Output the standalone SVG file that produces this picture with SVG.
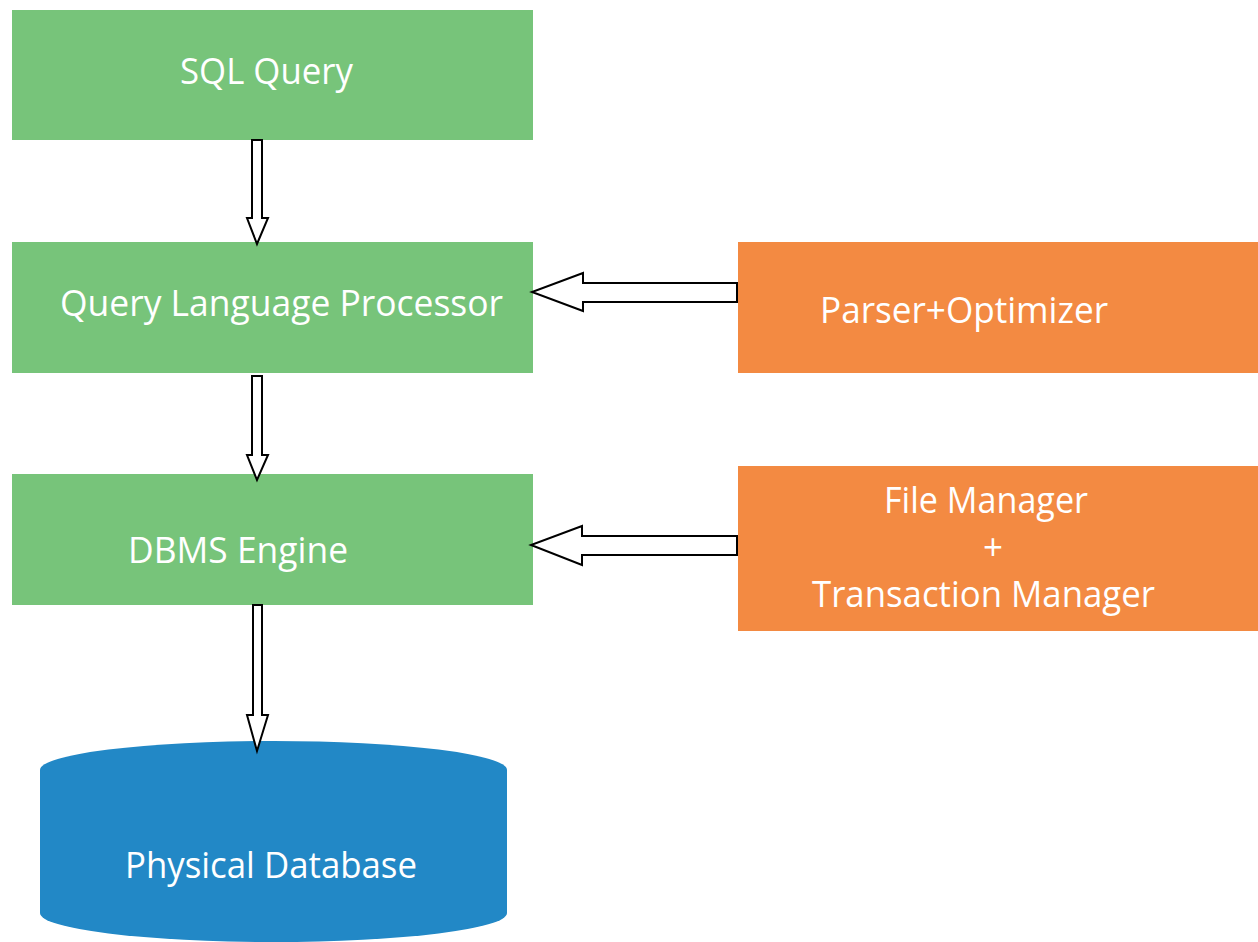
<svg xmlns="http://www.w3.org/2000/svg" width="1258" height="942" viewBox="0 0 1258 942">
<style>
.g{fill:#77C47A}
.o{fill:#F38A42}
.b{fill:#2288C6}
.t{font-family:"Open Sans","Liberation Sans",sans-serif;font-size:36px;fill:#ffffff}
.a{fill:#ffffff;stroke:#000000;stroke-width:2;stroke-linejoin:miter}
</style>
<rect width="1258" height="942" fill="#ffffff"/>
<g id="sql-query">
<rect class="g" x="12" y="10" width="521" height="130"/>
<text class="t" x="180" y="84" textLength="173" lengthAdjust="spacingAndGlyphs">SQL Query</text>
</g>
<g id="query-language-processor">
<rect class="g" x="12" y="242" width="521" height="131"/>
<text class="t" x="60" y="316" textLength="443" lengthAdjust="spacingAndGlyphs">Query Language Processor</text>
</g>
<g id="dbms-engine">
<rect class="g" x="12" y="474" width="521" height="131"/>
<text class="t" x="128" y="563" textLength="220" lengthAdjust="spacingAndGlyphs">DBMS Engine</text>
</g>
<g id="parser-optimizer">
<rect class="o" x="738" y="242" width="520" height="131"/>
<text class="t" x="820" y="323" textLength="288" lengthAdjust="spacingAndGlyphs">Parser+Optimizer</text>
</g>
<g id="file-transaction-manager">
<rect class="o" x="738" y="466" width="520" height="165"/>
<text class="t" x="884" y="513" textLength="204" lengthAdjust="spacingAndGlyphs">File Manager</text>
<text class="t" x="983" y="560" textLength="20" lengthAdjust="spacingAndGlyphs">+</text>
<text class="t" x="812" y="607" textLength="343" lengthAdjust="spacingAndGlyphs">Transaction Manager</text>
</g>
<g id="physical-database">
<path class="b" d="M40,770 A233.5,29 0 0 1 507,770 L507,913 A233.5,29 0 0 1 40,913 Z"/>
<text class="t" x="125" y="878" textLength="292" lengthAdjust="spacingAndGlyphs">Physical Database</text>
</g>
<g id="connectors">
<polygon class="a" points="252,140 262,140 262,218 268,218 257,244 247,218 252,218"/>
<polygon class="a" points="252,376 262,376 262,455 268,455 257,480 247,455 252,455"/>
<polygon class="a" points="253,605 262,605 262,715 268,715 257,751 247,715 253,715"/>
<polygon class="a" points="737,283 737,302 583,302 583,311 532,292 583,273 583,283"/>
<polygon class="a" points="737,536 737,555 582,555 582,565 531,545 582,526 582,536"/>
</g>
</svg>
